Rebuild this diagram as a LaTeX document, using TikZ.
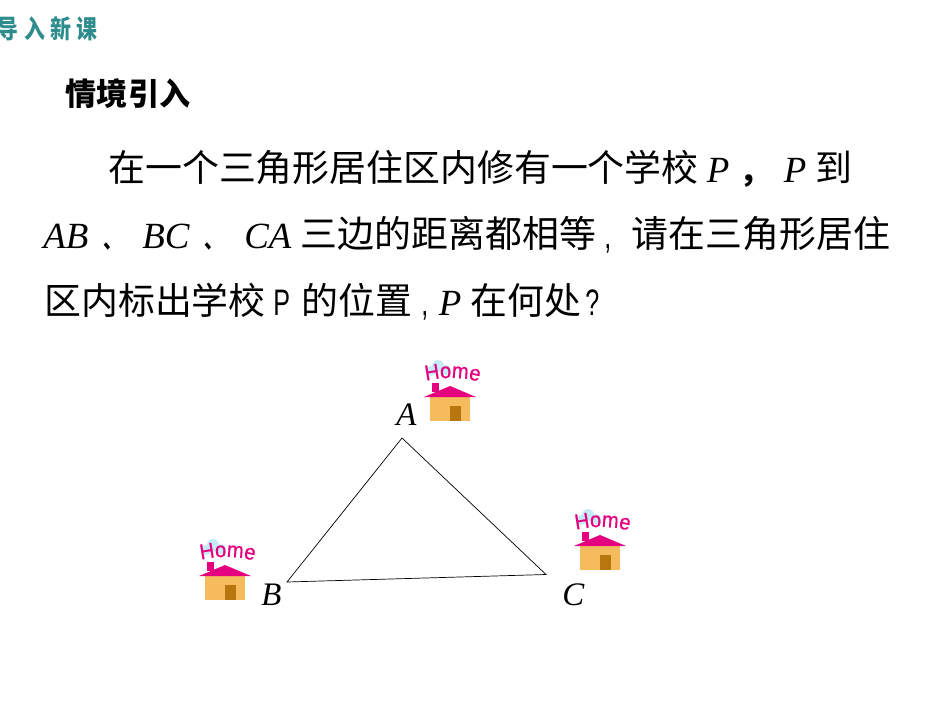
\documentclass[tikz,border=0pt]{standalone}
\usepackage{fontspec}
\setmainfont{Liberation Serif}
\newfontfamily\cjk{Noto Sans CJK SC}
\newfontfamily\titlecjk[FakeStretch=0.82]{Noto Sans CJK SC}
\newfontfamily\narrowsans[FakeStretch=0.68]{Liberation Sans}
\newfontfamily\homefont[FakeBold=0.6,FakeStretch=0.93]{Liberation Sans}
\usetikzlibrary{decorations.text}
\definecolor{teal1}{HTML}{2F8C8C}
\definecolor{roofpink}{HTML}{E5007F}
\definecolor{wallorange}{HTML}{F6BB5C}
\definecolor{doorbrown}{HTML}{B8760F}
\definecolor{cloudblue}{HTML}{C4ECF7}
\tikzset{
  txt/.style={anchor=base west,inner sep=0pt,font=\fontsize{21}{21}\selectfont\cjk},
  boldtxt/.style={txt,font=\fontsize{18}{18}\selectfont\cjk\bfseries},
  dunhao/.style={txt,font=\fontsize{13}{13}\selectfont\titlecjk\bfseries},
  narrowtxt/.style={txt,font=\fontsize{21}{21}\selectfont\narrowsans},
  mathtxt/.style={anchor=base west,inner sep=0pt,font=\fontsize{21}{21}\selectfont\itshape},
  vertex/.style={anchor=base west,inner sep=0pt,font=\fontsize{18.7}{19}\selectfont\itshape},
  home/.pic={
    \fill[cloudblue] (-12,-20) circle (6) (-19,-15) circle (5) (-4,-16) circle (5);
    \fill[roofpink] (-18,-3) rectangle (-11,6);
    \fill[wallorange] (-20,11) rectangle (20,35);
    \fill[doorbrown] (0,20) rectangle (11,35);
    \fill[roofpink] (-26,11) -- (0,0) -- (26,11) -- cycle;
    \path[decorate,decoration={text along path,text align=center,
      text={|\fontsize{12.3}{12.3}\selectfont\homefont\color{roofpink}|Home}}]
      (-28,-4) .. controls (-12,-9) and (14,-10) .. (33,-3);
  }
}
\begin{document}
\begin{tikzpicture}[x=0.02cm,y=-0.02cm]
\useasboundingbox (0,0) rectangle (950,713);
% heading
\node[anchor=base west,inner sep=0pt,text=teal1,font=\fontsize{14.5}{14.5}\selectfont\titlecjk\bfseries] (title) at (-2.5,39) {导\hspace{3pt}入\hspace{3pt}新\hspace{3pt}课};
\node[txt,font=\fontsize{17.7}{17.7}\selectfont\cjk\bfseries] (sub) at (65.5,106) {情境引入};
% first line
\node[txt] (l1a) at (108,181.5) {在一个三角形居住区内修有一个学校};
\node[mathtxt] (p1) at (706.5,182) {P};
\node[boldtxt] (c1) at (739,182) {，};
\node[mathtxt] (p2) at (783.5,182) {P};
\node[txt] (l1b) at (815,181.5) {到};
% second line
\node[mathtxt] (ab) at (43,248) {AB};
\node[dunhao] (c2) at (103,248) {、};
\node[mathtxt] (bc) at (142,248) {BC};
\node[dunhao] (c3) at (204,248) {、};
\node[mathtxt] (ca) at (244,248) {CA};
\node[txt] (l2a) at (300.5,247.5) {三边的距离都相等};
\node[narrowtxt] (c4) at (604,248) {,};
\node[txt] (l2b) at (631.5,247.5) {请在三角形居住};
% third line
\node[txt] (l3a) at (44,314.5) {区内标出学校};
\node[narrowtxt] (p3) at (273,315) {P};
\node[txt] (l3b) at (301,314.5) {的位置};
\node[narrowtxt] (c5) at (421,315) {,};
\node[mathtxt] (p4) at (438.5,315) {P};
\node[txt] (l3c) at (470.5,314.5) {在何处};
\node[narrowtxt] (q) at (585,315) {?};
% triangle
\coordinate (A) at (402,438);
\coordinate (B) at (287,582);
\coordinate (C) at (546,574.5);
\draw[line width=0.4pt] (A) -- (B) -- (C) -- cycle;
\node[vertex] (la) at (396,425) {A};
\node[vertex] (lb) at (261,605) {B};
\node[vertex] (lc) at (562,605) {C};
% houses
\pic at (450,386) {home};
\pic at (225,565) {home};
\pic at (600,535) {home};
\end{tikzpicture}
\end{document}
